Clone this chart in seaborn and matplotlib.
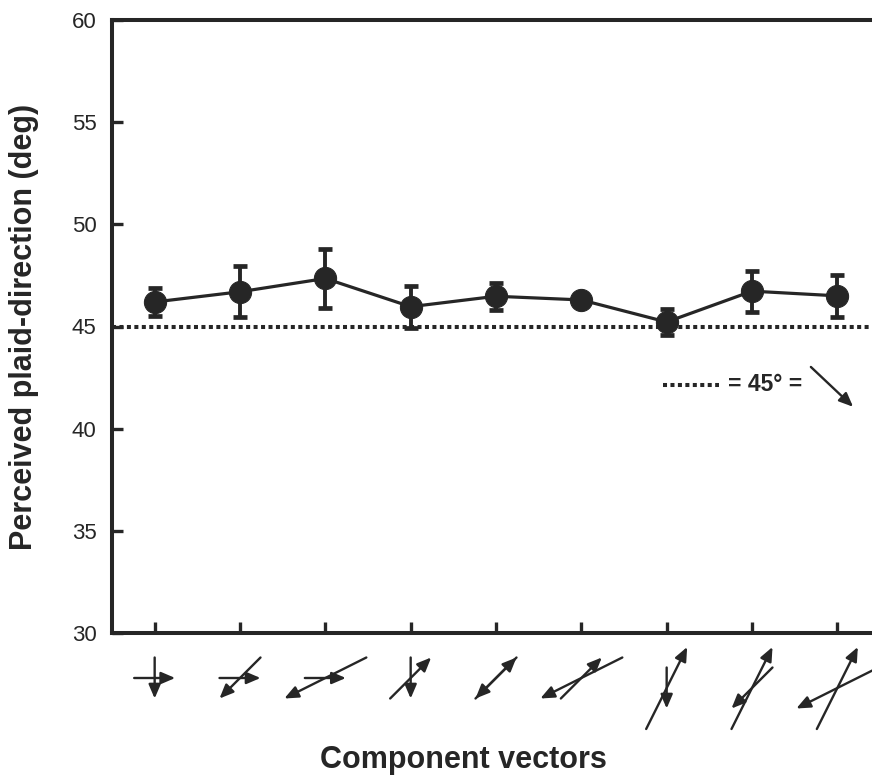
import numpy as np
import seaborn as sns
import matplotlib
matplotlib.use("Agg")
import matplotlib.pyplot as plt

# -----------------------------
# Data
# -----------------------------
conditions = np.arange(1, 10)
perceived_dir = [46.2, 46.7, 47.35, 45.97, 46.48, 46.3, 45.22, 46.73, 46.5]
perceived_sem = [0.68, 1.25, 1.44, 1.03, 0.66, 0.15, 0.63, 1.0, 1.03]
reference_dir = 45

# component vector pairs under each tick, (dx, dy) in grid units, y up
vectors_a = [(1, 0), (1, 0), (1, 0), (0, -1), (1, 1), (-2, -1), (0, -1), (1, 2), (1, 2)]
vectors_b = [(0, -1), (-1, -1), (-2, -1), (1, 1), (-1, -1), (1, 1), (1, 2), (-1, -1), (-2, -1)]

y_ticks = [30, 35, 40, 45, 50, 55, 60]

# -----------------------------
# Style
# -----------------------------
sns.set_style("ticks")
plt.rcParams["font.family"] = ["Liberation Sans", "DejaVu Sans"]
INK = "#262626"
ARROW = dict(arrowstyle="-|>,head_length=0.42,head_width=0.18",
             mutation_scale=20, lw=1.7, color=INK, shrinkA=0, shrinkB=0)

fig = plt.figure(figsize=(8.72, 7.76), dpi=100)
ax = fig.add_axes([112 / 872, 1 - 633 / 776, 768 / 872, 613 / 776])

sns.lineplot(x=conditions, y=perceived_dir, ax=ax, color=INK, lw=2.3,
             marker="o", markersize=16, markeredgecolor=INK, zorder=4)
ax.errorbar(conditions, perceived_dir, yerr=perceived_sem, fmt="none",
            ecolor=INK, elinewidth=2.8, capsize=5, capthick=3.4, zorder=3)

ax.axhline(reference_dir, color=INK, lw=2.9, ls=(0, (1, 0.85)),
           dash_capstyle="butt", zorder=2)

ax.set_xlim(0.5, 9.5)
ax.set_ylim(30, 60)
ax.set_xticks(conditions)
ax.set_xticklabels([])
ax.set_yticks(y_ticks)
ax.tick_params(axis="both", direction="in", length=8, width=2.4,
               color=INK, labelsize=16, labelcolor=INK)
ax.tick_params(axis="y", pad=11)
for side in ax.spines.values():
    side.set_linewidth(2.9)
    side.set_color(INK)

ax.set_ylabel("Perceived plaid-direction (deg)", fontsize=22,
              fontweight="bold", color=INK, labelpad=24)

# legend for the dotted line
ax.plot([0.7174, 0.79], [0.4046, 0.4046], transform=ax.transAxes,
        color=INK, lw=2.9, ls=(0, (1, 0.85)), dash_capstyle="butt")
ax.text(0.802, 0.4046, "= 45° =", transform=ax.transAxes, fontsize=16.5,
        fontweight="bold", color=INK, va="center", ha="left")
ax.annotate("", xy=(0.965, 0.369), xytext=(0.910, 0.434),
            xycoords="axes fraction", textcoords="axes fraction",
            arrowprops=ARROW)

# -----------------------------
# Component-vector glyphs under the x axis
# -----------------------------
gx = fig.add_axes([112 / 872, 1 - 740 / 776, 768 / 872, 104 / 776])
gx.set_xlim(0.5, 9.5)
px_per_unit = 768 / 9
gx.set_ylim(-104 / px_per_unit, 0)
gx.axis("off")

unit = 20.5 / px_per_unit
for x, va, vb in zip(conditions, vectors_a, vectors_b):
    tall = max(abs(va[1]), abs(vb[1]))
    cy = -(42 if tall == 1 else 52) / px_per_unit
    for vx, vy in (va, vb):
        gx.annotate("", xy=(x + vx * unit, cy + vy * unit),
                    xytext=(x - vx * unit, cy - vy * unit),
                    arrowprops=ARROW, annotation_clip=False)

fig.text(463 / 872, 1 - 760 / 776, "Component vectors", fontsize=22,
         fontweight="bold", color=INK, ha="center", va="center")

fig.savefig("out.png", dpi=100)
